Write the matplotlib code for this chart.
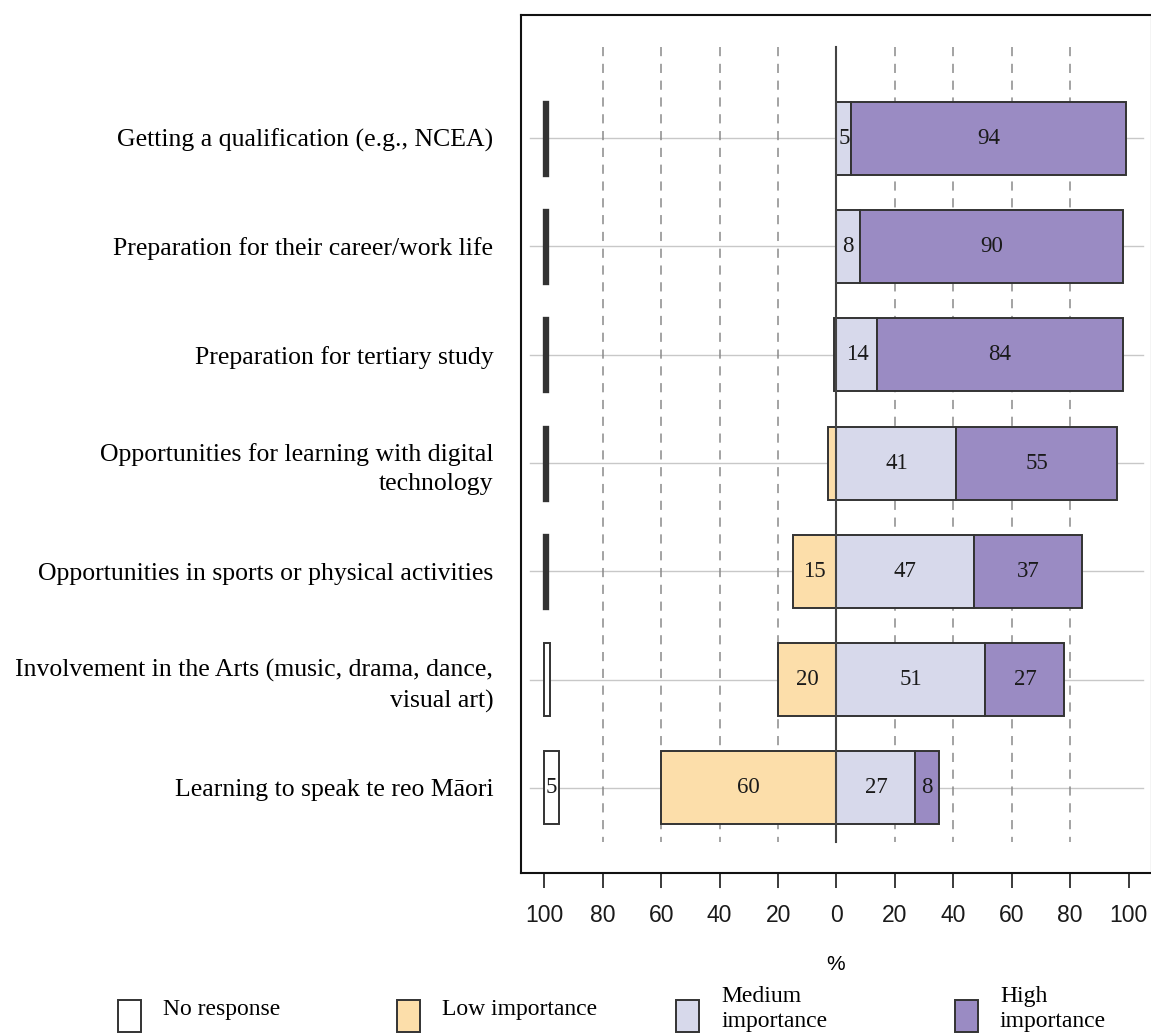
import matplotlib
matplotlib.use("Agg")
import matplotlib.pyplot as plt
from matplotlib.patches import Rectangle

categories = [
    "Getting a qualification (e.g., NCEA)",
    "Preparation for their career/work life",
    "Preparation for tertiary study",
    "Opportunities for learning with digital\ntechnology",
    "Opportunities in sports or physical activities",
    "Involvement in the Arts (music, drama, dance,\nvisual art)",
    "Learning to speak te reo Māori",
]
no_response = [1, 1, 1, 1, 1, 2, 5]
low = [0, 0, 1, 3, 15, 20, 60]
medium = [5, 8, 14, 41, 47, 51, 27]
high = [94, 90, 84, 55, 37, 27, 8]
xticks = [-100, -80, -60, -40, -20, 0, 20, 40, 60, 80, 100]
legend_labels = ["No response", "Low importance", "Medium\nimportance", "High\nimportance"]

C_NR = "#FFFFFF"
C_LOW = "#FCDEAA"
C_MED = "#D7D9EB"
C_HIGH = "#9A8BC3"
EDGE = "#333333"
SERIF = "Liberation Serif"
SANS = "Liberation Sans"

W, H = 1151, 1035
fig = plt.figure(figsize=(W / 100, H / 100), dpi=100)
ax = fig.add_axes([521 / W, (H - 873) / H, 631 / W, 858 / H])

ypos = list(range(len(categories)))
bh = 0.674

# background guides
for y in ypos:
    ax.plot([-105, 105], [y, y], color="#c8c8c8", lw=1, zorder=1)
for x in [-80, -60, -40, -20, 20, 40, 60, 80]:
    ax.plot([x, x], [-0.84, 6.5], color="#8a8a8a", lw=1.1, ls=(0, (6, 5)), zorder=1)
ax.plot([0, 0], [-0.84, 6.5], color="#444444", lw=1.5, zorder=4)

def label(x, y, v):
    if v >= 5:
        ax.text(x, y, f"{v}", ha="center", va="center", fontsize=16.5,
                family=SERIF, color="#1a1a1a", zorder=5)

for y, nr, lo, me, hi in zip(ypos, no_response, low, medium, high):
    ax.barh(y, nr, left=-100, height=bh, color=C_NR, edgecolor=EDGE,
            lw=2.4 if nr < 2 else 1.4, zorder=3)
    label(-100 + nr / 2, y, nr)
    if lo > 0:
        ax.barh(y, lo, left=-lo, height=bh, color=C_LOW, edgecolor=EDGE, lw=1.4, zorder=3)
        label(-lo / 2, y, lo)
    ax.barh(y, me, left=0, height=bh, color=C_MED, edgecolor=EDGE, lw=1.4, zorder=3)
    label(me / 2, y, me)
    ax.barh(y, hi, left=me, height=bh, color=C_HIGH, edgecolor=EDGE, lw=1.4, zorder=3)
    label(me + hi / 2, y, hi)

ax.set_xlim(-108, 108)
ax.set_ylim(6.785, -1.136)
ax.set_xticks(xticks)
ax.set_xticklabels([str(abs(t)) for t in xticks], family=SANS, fontsize=16.5)
ax.tick_params(axis="x", direction="out", length=11, width=1.2, pad=11, colors="#1a1a1a")
ax.set_yticks(ypos)
ax.set_yticklabels(categories, family=SERIF, fontsize=18.5)
ax.tick_params(axis="y", length=0, pad=20)
for t in ax.get_yticklabels():
    t.set_linespacing(1.4)
for s in ax.spines.values():
    s.set_linewidth(1.5)
    s.set_color("#111111")

fig.text(836 / W, 1 - 964 / H, "%", ha="center", va="center", family=SANS, fontsize=15)

# legend
colors = [C_NR, C_LOW, C_MED, C_HIGH]
rect_x = [118, 397, 676, 955]
for rx, c, lab in zip(rect_x, colors, legend_labels):
    fig.patches.append(Rectangle((rx / W, 1 - 1032 / H), 23 / W, 32 / H,
                                 transform=fig.transFigure, facecolor=c,
                                 edgecolor=EDGE, lw=1.4))
    fig.text((rx + 45) / W, 1 - 1009 / H, lab, ha="left", va="center", family=SERIF,
             fontsize=17, linespacing=1.3)

fig.savefig("out.png", dpi=100)
